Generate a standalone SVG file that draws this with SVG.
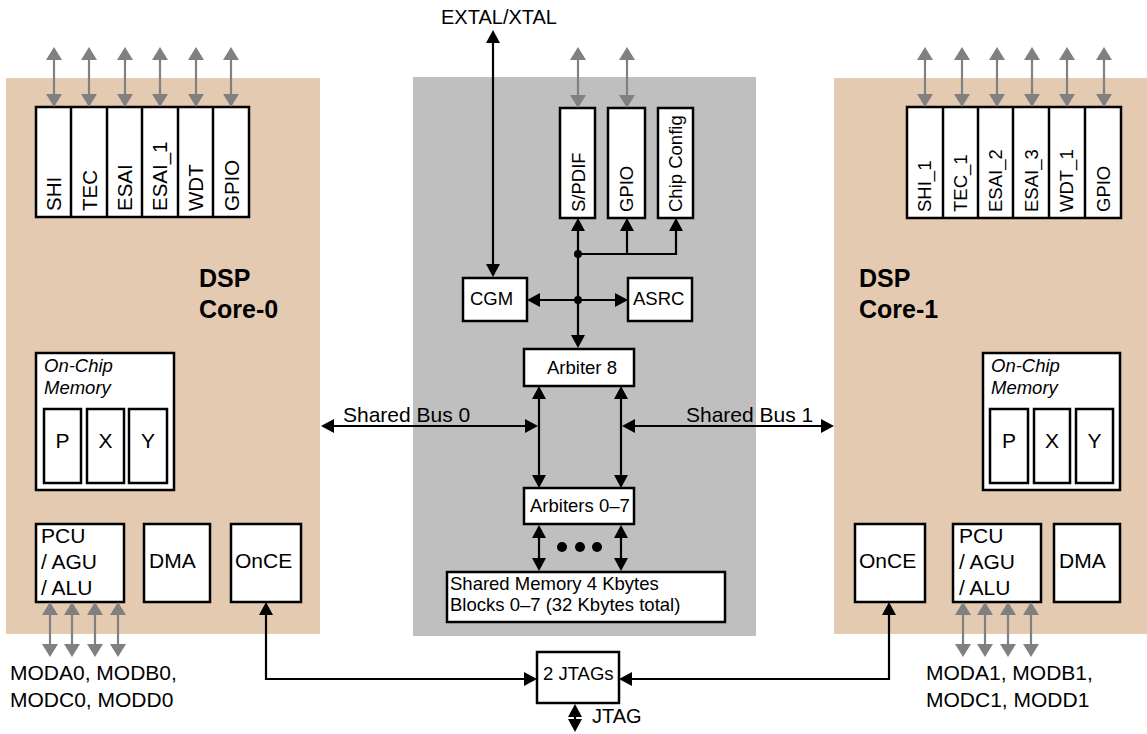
<svg xmlns="http://www.w3.org/2000/svg" width="1147" height="734" viewBox="0 0 1147 734">
<style>
text{font-family:"Liberation Sans",Arial,sans-serif;fill:#000}
.box{fill:#fff;stroke:#000;stroke-width:2.5}
.div{stroke:#000;stroke-width:2.5}
.core{fill:#e4cab0}
.mid{fill:#bfbfbf}
.f21{font-size:21px}
.f20{font-size:20px}
.f18{font-size:18.5px}
.it{font-size:18.5px;font-style:italic}
.bold{font-size:25px;font-weight:bold}
.vl{font-size:20.5px}
.vr{font-size:18.5px}
.bl{fill:none;stroke:#000;stroke-width:2.2;marker-start:url(#ab);marker-end:url(#ab)}
.be{fill:none;stroke:#000;stroke-width:2.2;marker-end:url(#ab)}
.gl{fill:none;stroke:#808080;stroke-width:2.2;marker-start:url(#ag);marker-end:url(#ag)}
</style>
<defs>
<marker id="ab" viewBox="0 0 13 14" refX="8" refY="7" markerWidth="13" markerHeight="14" markerUnits="userSpaceOnUse" orient="auto-start-reverse"><path d="M0,0 L13,7 L0,14 z" fill="#000"/></marker>
<marker id="ag" viewBox="0 0 13 16" refX="8" refY="8" markerWidth="13" markerHeight="16" markerUnits="userSpaceOnUse" orient="auto-start-reverse"><path d="M0,0 L13,8 L0,16 z" fill="#808080"/></marker>
</defs>

<g id="panels">
<rect class="core" x="6" y="78" width="314" height="556"/>
<rect class="core" x="834" y="78" width="313" height="556"/>
<rect class="mid" x="413" y="77" width="343" height="559"/>
</g>

<g id="core0-label">
<text class="bold" x="199" y="287">DSP</text>
<text class="bold" x="199" y="318">Core-0</text>
</g>
<g id="core1-label">
<text class="bold" x="859" y="287">DSP</text>
<text class="bold" x="859" y="318">Core-1</text>
</g>

<g id="core0-periph">
<rect class="box" x="36" y="107" width="213" height="110"/>
<line class="div" x1="71" y1="107" x2="71" y2="217"/>
<line class="div" x1="107" y1="107" x2="107" y2="217"/>
<line class="div" x1="142" y1="107" x2="142" y2="217"/>
<line class="div" x1="178" y1="107" x2="178" y2="217"/>
<line class="div" x1="213" y1="107" x2="213" y2="217"/>
<text class="vl" transform="translate(61,211) rotate(-90)">SHI</text>
<text class="vl" transform="translate(97,211) rotate(-90)">TEC</text>
<text class="vl" transform="translate(132,211) rotate(-90)">ESAI</text>
<text class="vl" transform="translate(167,211) rotate(-90)">ESAI_1</text>
<text class="vl" transform="translate(203,211) rotate(-90)">WDT</text>
<text class="vl" transform="translate(239,211) rotate(-90)">GPIO</text>
</g>

<g id="core1-periph">
<rect class="box" x="907" y="107" width="214" height="111"/>
<line class="div" x1="943" y1="107" x2="943" y2="218"/>
<line class="div" x1="978" y1="107" x2="978" y2="218"/>
<line class="div" x1="1013" y1="107" x2="1013" y2="218"/>
<line class="div" x1="1049" y1="107" x2="1049" y2="218"/>
<line class="div" x1="1085" y1="107" x2="1085" y2="218"/>
<text class="vr" transform="translate(931,212) rotate(-90)">SHI_1</text>
<text class="vr" transform="translate(967,212) rotate(-90)">TEC_1</text>
<text class="vr" transform="translate(1002,212) rotate(-90)">ESAI_2</text>
<text class="vr" transform="translate(1038,212) rotate(-90)">ESAI_3</text>
<text class="vr" transform="translate(1073,212) rotate(-90)">WDT_1</text>
<text class="vr" transform="translate(1110,212) rotate(-90)">GPIO</text>
</g>

<g id="spdif"><rect class="box" x="560" y="108" width="35" height="110"/><text class="vr" transform="translate(585,212) rotate(-90)">S/PDIF</text></g>
<g id="gpio-c"><rect class="box" x="608" y="108" width="37" height="110"/><text class="vr" transform="translate(633,212) rotate(-90)">GPIO</text></g>
<g id="chipconfig"><rect class="box" x="658" y="108" width="35" height="110"/><text class="vr" transform="translate(682,212) rotate(-90)">Chip Config</text></g>
<g id="cgm"><rect class="box" x="463" y="278" width="64" height="43"/><text class="f18" x="470" y="305">CGM</text></g>
<g id="asrc"><rect class="box" x="628" y="278" width="64" height="43"/><text class="f18" x="633" y="305">ASRC</text></g>
<g id="arbiter8"><rect class="box" x="524" y="349" width="110" height="37"/><text class="f18" x="547" y="374">Arbiter 8</text></g>
<g id="arbiters07"><rect class="box" x="524" y="488" width="110" height="36"/><text class="f18" x="530" y="512">Arbiters 0–7</text></g>
<g id="sharedmem"><rect class="box" x="447" y="572" width="278" height="50"/><text class="f18" x="450" y="590">Shared Memory 4 Kbytes</text><text class="f18" x="450" y="611">Blocks 0–7 (32 Kbytes total)</text></g>
<g id="jtags"><rect class="box" x="537" y="652" width="82" height="51"/><text class="f18" x="543" y="680">2 JTAGs</text></g>

<g id="core0-mem">
<rect class="box" x="36" y="353" width="138" height="137"/>
<text class="it" x="44" y="372">On-Chip</text>
<text class="it" x="44" y="394">Memory</text>
<rect class="box" x="44" y="409" width="37" height="74"/>
<rect class="box" x="87" y="409" width="37" height="74"/>
<rect class="box" x="129" y="409" width="38" height="74"/>
<text class="f21" x="62.5" y="448" text-anchor="middle">P</text>
<text class="f21" x="105.5" y="448" text-anchor="middle">X</text>
<text class="f21" x="148" y="448" text-anchor="middle">Y</text>
</g>
<g id="core0-pcu"><rect class="box" x="36" y="524" width="88" height="78"/><text class="f21" x="41" y="543">PCU</text><text class="f21" x="41" y="569">/ AGU</text><text class="f21" x="41" y="595">/ ALU</text></g>
<g id="core0-dma"><rect class="box" x="144" y="524" width="66" height="78"/><text class="f21" x="149" y="568">DMA</text></g>
<g id="core0-once"><rect class="box" x="231" y="524" width="70" height="78"/><text class="f21" x="235" y="568">OnCE</text></g>

<g id="core1-mem">
<rect class="box" x="983" y="353" width="137" height="137"/>
<text class="it" x="991" y="372">On-Chip</text>
<text class="it" x="991" y="394">Memory</text>
<rect class="box" x="990" y="409" width="38" height="74"/>
<rect class="box" x="1034" y="409" width="36" height="74"/>
<rect class="box" x="1076" y="409" width="37" height="74"/>
<text class="f21" x="1009" y="448" text-anchor="middle">P</text>
<text class="f21" x="1052" y="448" text-anchor="middle">X</text>
<text class="f21" x="1094.5" y="448" text-anchor="middle">Y</text>
</g>
<g id="core1-once"><rect class="box" x="855" y="524" width="70" height="78"/><text class="f21" x="859" y="568">OnCE</text></g>
<g id="core1-pcu"><rect class="box" x="953" y="524" width="88" height="78"/><text class="f21" x="959" y="543">PCU</text><text class="f21" x="959" y="569">/ AGU</text><text class="f21" x="959" y="595">/ ALU</text></g>
<g id="core1-dma"><rect class="box" x="1054" y="524" width="66" height="78"/><text class="f21" x="1059" y="568">DMA</text></g>

<g id="labels">
<text class="f20" x="441" y="24">EXTAL/XTAL</text>
<text class="f21" x="343" y="422">Shared Bus 0</text>
<text class="f21" x="686" y="422">Shared Bus 1</text>
<text class="f21" x="10" y="680">MODA0, MODB0,</text>
<text class="f21" x="10" y="707">MODC0, MODD0</text>
<text class="f21" x="926" y="680">MODA1, MODB1,</text>
<text class="f21" x="926" y="707">MODC1, MODD1</text>
<text class="f20" x="592" y="723">JTAG</text>
</g>

<g id="connectors">
<path class="gl" d="M54,52 V102"/><path class="gl" d="M89,52 V102"/><path class="gl" d="M125,52 V102"/><path class="gl" d="M160,52 V102"/><path class="gl" d="M196,52 V102"/><path class="gl" d="M231,52 V102"/>
<path class="gl" d="M925,52 V102"/><path class="gl" d="M962,52 V102"/><path class="gl" d="M997,52 V102"/><path class="gl" d="M1032,52 V102"/><path class="gl" d="M1067,52 V102"/><path class="gl" d="M1104,52 V102"/>
<path class="gl" d="M578,52 V103"/><path class="gl" d="M627,52 V103"/>
<path class="gl" d="M50,607 V652"/><path class="gl" d="M72,607 V652"/><path class="gl" d="M95,607 V652"/><path class="gl" d="M118,607 V652"/>
<path class="gl" d="M963,607 V652"/><path class="gl" d="M985,607 V652"/><path class="gl" d="M1008,607 V652"/><path class="gl" d="M1031,607 V652"/>

<path class="bl" d="M493,35 V272"/>
<path class="bl" d="M578,223 V343"/>
<path class="be" d="M578,254 H676 V223"/>
<path class="be" d="M627,254 V223"/>
<path class="bl" d="M532,300 H623"/>
<circle cx="578" cy="254" r="4" fill="#000"/>
<circle cx="578" cy="300" r="4" fill="#000"/>
<path class="bl" d="M539,391 V483"/>
<path class="bl" d="M621,391 V483"/>
<path class="bl" d="M326,426 H533"/>
<path class="bl" d="M627,426 H829"/>
<path class="bl" d="M539,530 V566"/>
<path class="bl" d="M621,530 V566"/>
<circle cx="562" cy="547" r="5" fill="#000"/>
<circle cx="580" cy="547" r="5" fill="#000"/>
<circle cx="597" cy="547" r="5" fill="#000"/>
<path class="bl" d="M266,607 V679 H532"/>
<path class="bl" d="M889,607 V679 H624"/>
<path class="bl" d="M575,709 V727"/>
</g>
</svg>
